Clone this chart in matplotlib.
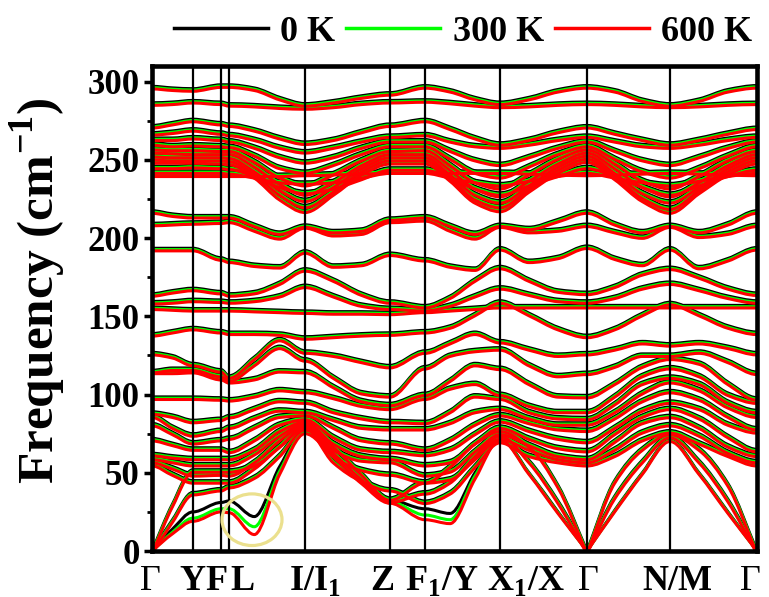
import matplotlib
matplotlib.use('Agg')
import matplotlib.pyplot as plt
from matplotlib.path import Path
from matplotlib.patches import PathPatch, Ellipse
from matplotlib.lines import Line2D
from matplotlib.transforms import ScaledTranslation

plt.rcParams['font.family'] = ['Liberation Serif', 'DejaVu Serif']
plt.rcParams['font.weight'] = 'bold'
plt.rcParams['mathtext.fontset'] = 'custom'
plt.rcParams['mathtext.rm'] = 'Liberation Serif'
plt.rcParams['mathtext.bf'] = 'Liberation Serif:bold'

# k-path: distance of each high-symmetry point along the path
kpath = [0, 41, 69, 77, 153, 238, 273, 348, 435, 518, 605]
seg_div = [2, 1, 1, 3, 3, 1, 3, 3, 3, 3]   # sampling nodes per segment
klabels = ['Γ', 'Y', 'F', 'L', 'I/I$_1$', 'Z', 'F$_1$/Y', 'X$_1$/X', 'Γ', 'N/M', 'Γ']
label_x = [-2, 40, 64, 90, 163, 230, 290, 374, 436, 525, 598]

temps = ['0 K', '300 K', '600 K']
colors = ['black', '#00ff00', '#ff0000']

# phonon frequencies (cm^-1) at the sampling nodes, 0 K
# node order: G, .., Y, F, L, .., .., I, .., .., Z, F1, .., .., X1, .., .., G, .., .., N, .., .., G
bands = [
    [297, 296, 295.5, 298, 298, 296, 290, 286, 288, 291, 293, 297.5, 295, 290, 287, 290, 295, 297.5, 295, 289, 286, 289, 295, 297.5],
    [286.5, 287, 288, 287, 286, 285.5, 284.5, 284, 285, 287, 288, 288.5, 287.5, 286, 285, 285.5, 286.5, 287, 286.5, 285.5, 285, 285.5, 286.5, 287],
    [272, 274, 276, 274, 273, 270, 265, 261.5, 264, 269, 273, 276, 271, 265, 261, 264, 269, 272, 268, 264, 261, 264, 268, 271],
    [267.5, 268.5, 270, 268, 267, 264, 259, 256, 259, 263, 266, 267, 263, 260, 259, 261, 264, 266, 263, 260, 259, 261, 264, 266],
    [264, 264, 265, 264, 263, 259, 253, 249.5, 253, 259, 263, 263, 257, 251, 248, 253, 259, 263, 257, 251, 248, 253, 259, 263],
    [261, 260, 260.5, 260, 259.5, 254, 246, 243, 248, 255, 260, 260, 252, 243, 240, 247, 255, 260, 252, 244, 240, 246, 254, 260],
    [258, 257.5, 257.5, 257, 257, 250, 240, 235, 242, 251, 257, 257.5, 248, 237, 233, 242, 252, 258, 249, 238, 233, 241, 251, 257],
    [256, 255.5, 255, 255, 255, 247, 236, 229, 237, 248, 255, 255, 245, 233, 228, 238, 249, 256, 246, 234, 228, 237, 248, 255],
    [253.5, 253, 253, 253, 252.5, 244, 232, 225, 234, 246, 253, 253, 242, 229, 224, 235, 247, 254, 243, 230, 224, 234, 246, 253],
    [251.5, 251, 251, 251, 250.5, 242, 229, 221, 231, 244, 251, 251, 240, 226, 221, 233, 245, 252, 241, 227, 220, 232, 244, 251],
    [249.5, 249.5, 249.5, 249, 248.5, 240, 226, 218, 229, 242, 249, 249, 238, 224, 218.5, 231, 243, 250, 239, 225, 217.5, 230, 242, 249],
    [246, 246, 246.5, 246, 245.5, 241, 234, 230, 233, 239, 245, 245, 240, 233, 229, 235, 241, 246, 241, 234, 229, 235, 241, 245],
    [243, 243, 243, 243, 242.5, 240, 237, 236, 237, 240, 243, 243, 240, 237, 235, 238, 241, 243, 240, 237, 235, 238, 241, 243],
    [241, 241, 241, 241, 241, 241, 241, 241.5, 242, 242.5, 243, 243, 243, 243, 243, 242.5, 242, 241.5, 242, 242.5, 243, 242.5, 242, 241.5],
    [217.5, 215.5, 214.5, 214.5, 214.5, 209, 204, 208.5, 205, 206, 213, 214.5, 209, 204, 209, 207, 212, 217.5, 210, 205, 209, 205, 210, 217.5],
    [209.5, 210, 210.5, 211, 211.5, 206, 201, 208, 203, 204, 211.5, 212.5, 206, 201, 208.5, 205, 206, 209, 205, 201.5, 208.5, 202, 204, 209],
    [193.5, 193.5, 193.5, 187.5, 186, 183.5, 182.5, 192, 183, 184, 190.5, 187, 183, 181, 194, 186, 188.5, 195, 188, 184, 194, 182, 187, 194],
    [164.5, 166.5, 168, 166, 164.5, 166, 172, 180.5, 174, 165, 160, 157, 163, 174, 182, 174, 167, 165.5, 170, 178, 181.5, 176, 169, 165],
    [159.5, 160, 161, 160.5, 160, 161, 164, 170, 164, 158, 156, 155, 158, 164, 169, 165, 161, 160, 163, 169, 172, 168, 163, 160],
    [156, 155.5, 155, 155, 155, 154.5, 154, 153.5, 153, 153, 152.7, 154, 155, 156, 157, 157, 157, 157, 157, 157, 157, 157, 157, 157],
    [139, 141, 143, 141, 140, 140, 139.5, 137, 138, 139, 139.5, 141, 144, 152, 160, 152, 143, 138, 143, 152, 159, 152, 144, 140],
    [127, 125, 120, 116, 112, 124, 136, 128, 126, 122, 118.7, 128, 134, 140, 134.6, 130, 126, 127, 130, 134, 132.6, 134, 131, 127],
    [115.5, 117, 117, 113, 110, 120, 131, 123, 112, 102, 100, 118, 126, 129, 130, 120, 113, 114.4, 119, 126, 126, 128, 122, 114.4],
    [115, 115, 115.5, 111, 109, 111, 116, 115.5, 106, 97, 94.5, 101, 110, 120, 117.6, 108, 100, 99.5, 108, 119, 124, 121, 108, 98],
    [98.5, 98.5, 98.5, 98, 97.5, 100, 104, 102.7, 99, 94, 92, 98.5, 105, 108, 101, 94, 90, 90, 100, 113, 118, 113, 101, 96],
    [89, 87, 83.6, 85, 86.7, 92, 97, 96, 90, 86, 83.6, 83, 90, 100, 98.5, 90, 86, 85.5, 95, 108, 112, 108, 96, 90],
    [87, 80, 75, 78, 80, 86, 91, 90, 85, 80, 79, 79, 83, 90, 92, 86, 82, 82, 90, 102, 109, 104, 93, 87],
    [81.6, 76, 70, 72, 73, 80, 87, 88, 80, 72, 70, 66, 72, 82, 88, 83, 79, 78, 86, 97, 102.7, 98, 87, 79],
    [72, 69, 66, 66, 64.5, 72, 82, 85.5, 74, 66, 64.5, 62.5, 66, 76, 84, 78, 73, 70.8, 80, 91, 96, 92, 82, 77],
    [62.5, 61, 60, 60, 60, 66, 78, 84, 70, 62, 60, 56, 58, 70, 80, 73, 67, 65, 76, 87, 92, 86, 74, 65],
    [60, 58, 56, 56, 56, 63, 75, 83, 66, 59, 58, 49.5, 52, 65, 76, 69, 62, 60, 71, 83, 86.8, 80, 68, 62],
    [58, 54, 49.5, 50, 49.5, 58, 72, 82, 62, 53, 50, 45, 47, 60, 73, 66, 60, 58, 66, 77, 81.6, 75, 64, 58],
    [56, 50, 45, 45, 45, 54, 68, 80, 58, 46, 40, 32, 38, 55, 70.8, 62, 58, 56, 62, 72, 77, 70, 62, 56],
    [0, 20, 37.5, 40, 42, 48, 62, 79, 64, 47, 32.5, 38, 45, 62, 75, 58, 32, 0, 35, 58, 74, 58, 33, 0],
    [0, 30, 52, 52, 52, 56, 68, 81, 68, 50, 34, 45, 55, 70, 78, 68, 42, 0, 45, 66, 76, 66, 43, 0],
]

# lowest acoustic branch, which softens visibly with temperature
acoustic_low = {
    '0 K':   [0, 14, 25, 31, 32, 22, 54, 77, 62, 45, 32.5, 27, 24, 50, 72, 50, 25, 0, 26, 50, 71, 50, 25, 0],
    '300 K': [0, 12, 21, 27, 27, 15.5, 51, 76, 61, 44, 31.5, 23, 20, 48, 71.5, 49.5, 24.5, 0, 25.5, 49.5, 70.5, 49.5, 24.5, 0],
    '600 K': [0, 11, 19, 25, 24.5, 10.5, 49, 75, 60, 43, 30.5, 20, 17.5, 46, 71, 49, 24, 0, 25, 49, 70, 49, 24, 0],
}

# sampling nodes along the path
knodes = [kpath[0]]
sym_nodes = {0}
for a, b, n in zip(kpath[:-1], kpath[1:], seg_div):
    for j in range(1, n + 1):
        knodes.append(a + (b - a) * j / n)
    sym_nodes.add(len(knodes) - 1)


def node_slope(ys, i, chord):
    # flat at high-symmetry points, linear for acoustic modes at Gamma
    if i in sym_nodes:
        return chord if ys[i] == 0 else 0.0
    d0 = (ys[i] - ys[i - 1]) / (knodes[i] - knodes[i - 1])
    d1 = (ys[i + 1] - ys[i]) / (knodes[i + 1] - knodes[i])
    if d0 * d1 <= 0:
        return 0.0
    return 2 * d0 * d1 / (d0 + d1)


def band_path(ys):
    verts = [(knodes[0], ys[0])]
    codes = [Path.MOVETO]
    for i in range(len(knodes) - 1):
        x0, x1 = knodes[i], knodes[i + 1]
        y0, y1 = ys[i], ys[i + 1]
        h = x1 - x0
        chord = (y1 - y0) / h
        m0 = node_slope(ys, i, chord)
        m1 = node_slope(ys, i + 1, chord)
        verts += [(x0 + h / 3, y0 + m0 * h / 3), (x1 - h / 3, y1 - m1 * h / 3), (x1, y1)]
        codes += [Path.CURVE4] * 3
    return Path(verts, codes)


fig = plt.figure(figsize=(7.69, 5.97), dpi=100)
ax = fig.add_axes([152 / 769, 46 / 597, 605 / 769, 485 / 597])

# the three temperatures overlap almost exactly; nudge them apart on screen
nudge_px = [0, 1.3, 2.6]
for temp, color, dy in zip(temps, colors, nudge_px):
    shifted = ax.transData + ScaledTranslation(0, -dy / 100, fig.dpi_scale_trans)
    for ys in bands:
        ax.add_patch(PathPatch(band_path(ys), fill=False, ec=color, lw=2.2,
                               transform=shifted, joinstyle='round', zorder=2))
    ax.add_patch(PathPatch(band_path(acoustic_low[temp]), fill=False, ec=color, lw=2.2,
                           joinstyle='round', zorder=2))

for k in kpath[1:-1]:
    ax.axvline(k, color='black', lw=1.6, zorder=5)

ax.add_patch(Ellipse((100, 20), width=60, height=33, fill=False,
                     ec='#ebe08e', lw=2.3, zorder=6))

ax.set_xlim(kpath[0], kpath[-1])
ax.set_ylim(0, 310)
ax.set_xticks([])
ax.set_yticks(range(0, 301, 50))
ax.set_yticks(range(25, 301, 50), minor=True)
ax.tick_params(axis='y', which='major', direction='out', length=6, width=2.5,
               labelsize=25, pad=3)
ax.tick_params(axis='y', which='minor', direction='out', length=3.5, width=2)
for lab in ax.get_yticklabels():
    lab.set_fontweight('bold')
for sp in ax.spines.values():
    sp.set_linewidth(3.3)

ax.set_ylabel(r'Frequency (cm$^{\mathbf{-1}}$)', fontsize=37, fontweight='bold')
ax.yaxis.set_label_coords(-0.139, 0.536)

for lab, x in zip(klabels, label_x):
    w = 'normal' if lab == 'Γ' else 'bold'
    ax.annotate(lab, xy=(x, 0), xycoords=('data', 'axes fraction'), xytext=(0, -28),
                textcoords='offset points', ha='center', va='baseline',
                fontsize=26, fontweight=w, annotation_clip=False)

handles = [Line2D([], [], color=c, lw=2.5) for c in colors]
fig.legend(handles, temps, loc='center', bbox_to_anchor=(463 / 769, 1 - 32 / 597),
           ncol=3, frameon=False, prop={'size': 26, 'weight': 'bold'},
           handlelength=2.6, handletextpad=0.35, columnspacing=0.3)

fig.savefig('out.png', dpi=100)
